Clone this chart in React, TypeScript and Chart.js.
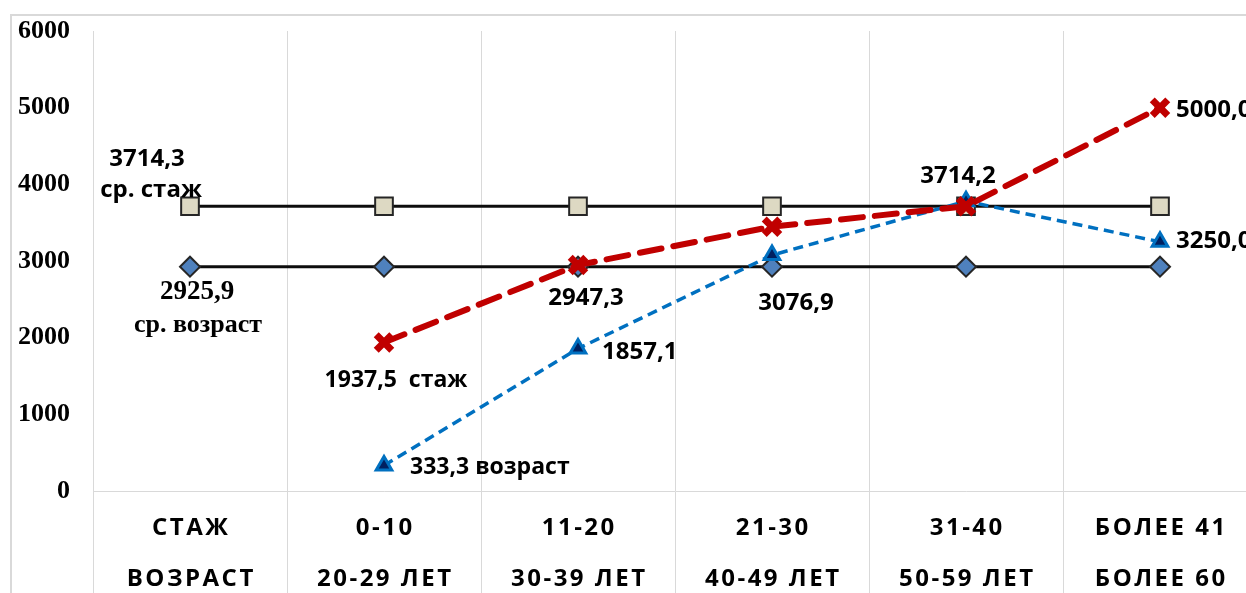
import { useEffect, useRef } from 'react';
import { Chart, registerables } from 'chart.js';

Chart.register(...registerables);

// ---------- data ----------
const categoriesStazh = ['СТАЖ', '0-10', '11-20', '21-30', '31-40', 'БОЛЕЕ 41'];
const categoriesAge = ['ВОЗРАСТ', '20-29 ЛЕТ', '30-39 ЛЕТ', '40-49 ЛЕТ', '50-59 ЛЕТ', 'БОЛЕЕ 60'];
const stazhValues = [null, 1937.5, 2947.3, 3447.0, 3714.2, 5000.0];
const ageValues = [null, 333.3, 1857.1, 3076.9, 3780.0, 3250.0];
const avgStazhValues = [3714.3, 3714.3, 3714.3, 3714.3, 3714.3, 3714.3];
const avgAgeValues = [2925.9, 2925.9, 2925.9, 2925.9, 2925.9, 2925.9];
const yTickValues = [0, 1000, 2000, 3000, 4000, 5000, 6000];

const SANS = '"Open Sans", "Noto Sans", sans-serif';
const SERIF = '"Liberation Serif", "Times New Roman", serif';

const fmt = (v: number) => v.toFixed(1).replace('.', ',');

type Ann = {
  ds: number;
  i: number;
  text: (v: number) => string;
  font: string;
  size: number;
  align: CanvasTextAlign;
  dx: number;
  dy: number;
};

// dataset indices: 0 стаж, 1 возраст, 2 ср. стаж, 3 ср. возраст
const annotations: Ann[] = [
  { ds: 2, i: 0, text: fmt, font: SANS, size: 24, align: 'center', dx: -43, dy: -40 },
  { ds: 2, i: 0, text: () => 'ср. стаж', font: SANS, size: 24, align: 'center', dx: -39, dy: -9 },
  { ds: 3, i: 0, text: fmt, font: SERIF, size: 27, align: 'center', dx: 7, dy: 32 },
  { ds: 3, i: 0, text: () => 'ср. возраст', font: SERIF, size: 26, align: 'center', dx: 8, dy: 65 },
  { ds: 0, i: 1, text: (v) => fmt(v) + '  стаж', font: SANS, size: 23, align: 'center', dx: 12, dy: 45 },
  { ds: 0, i: 2, text: fmt, font: SANS, size: 24, align: 'center', dx: 8, dy: 40 },
  { ds: 1, i: 2, text: fmt, font: SANS, size: 24, align: 'left', dx: 24, dy: 10 },
  { ds: 1, i: 3, text: fmt, font: SANS, size: 24, align: 'center', dx: 24, dy: 55 },
  { ds: 1, i: 1, text: (v) => fmt(v) + ' возраст', font: SANS, size: 23, align: 'left', dx: 26, dy: 9 },
  { ds: 0, i: 4, text: fmt, font: SANS, size: 24, align: 'center', dx: -8, dy: -23 },
  { ds: 0, i: 5, text: fmt, font: SANS, size: 24, align: 'left', dx: 16, dy: 9 },
  { ds: 1, i: 5, text: fmt, font: SANS, size: 24, align: 'left', dx: 16, dy: 6 },
];

const framePlugin = {
  id: 'frame',
  beforeDraw(chart: any) {
    const { ctx, width, height } = chart;
    ctx.save();
    ctx.fillStyle = '#ffffff';
    ctx.fillRect(0, 0, width, height);
    ctx.strokeStyle = '#d9d9d9';
    ctx.lineWidth = 2;
    ctx.beginPath();
    ctx.moveTo(11, height);
    ctx.lineTo(11, 15);
    ctx.lineTo(width, 15);
    ctx.stroke();
    ctx.restore();
  },
};

const xLabelsPlugin = {
  id: 'xLabels',
  afterDraw(chart: any) {
    const { ctx } = chart;
    const xs = chart.scales.x;
    const spacing = 2.5;
    ctx.save();
    ctx.fillStyle = '#000000';
    ctx.font = `bold 24px ${SANS}`;
    ctx.textAlign = 'center';
    ctx.textBaseline = 'alphabetic';
    (ctx as any).letterSpacing = `${spacing}px`;
    categoriesStazh.forEach((lab, i) => {
      const x = xs.getPixelForValue(i) + spacing / 2;
      ctx.fillText(lab, x, xs.top + 44);
      ctx.fillText(categoriesAge[i], x, xs.top + 95);
    });
    ctx.restore();
  },
};

const pointLabelsPlugin = {
  id: 'pointLabels',
  afterDatasetsDraw(chart: any) {
    const { ctx } = chart;
    ctx.save();
    ctx.fillStyle = '#000000';
    ctx.textBaseline = 'alphabetic';
    annotations.forEach((a) => {
      const meta = chart.getDatasetMeta(a.ds);
      const pt = meta.data[a.i];
      const v = chart.data.datasets[a.ds].data[a.i];
      if (!pt || v == null) return;
      ctx.font = `bold ${a.size}px ${a.font}`;
      ctx.textAlign = a.align;
      ctx.fillText(a.text(v), pt.x + a.dx, pt.y + a.dy);
    });
    ctx.restore();
  },
};

export default function App() {
  const ref = useRef<HTMLCanvasElement>(null);

  useEffect(() => {
    if (!ref.current) return;
    const chart = new Chart(ref.current, {
      type: 'line',
      data: {
        labels: categoriesStazh,
        datasets: [
          {
            label: 'стаж',
            data: stazhValues,
            borderColor: '#c00000',
            borderWidth: 6,
            borderDash: [22, 12],
            borderCapStyle: 'round',
            pointStyle: 'crossRot',
            pointRadius: 11,
            pointBorderWidth: 7,
            pointBorderColor: '#c00000',
            pointBackgroundColor: '#c00000',
            tension: 0,
          },
          {
            label: 'возраст',
            data: ageValues,
            borderColor: '#0070c0',
            borderWidth: 3.5,
            borderDash: [10, 6],
            pointStyle: 'triangle',
            pointRadius: 9,
            pointBorderWidth: 3,
            pointBorderColor: '#0070c0',
            pointBackgroundColor: '#002060',
            tension: 0,
          },
          {
            label: 'ср. стаж',
            data: avgStazhValues,
            borderColor: '#0d0d0d',
            borderWidth: 3,
            pointStyle: 'rect',
            pointRadius: 12.5,
            pointBorderWidth: 2,
            pointBorderColor: '#262626',
            pointBackgroundColor: '#ddd9c3',
            tension: 0,
          },
          {
            label: 'ср. возраст',
            data: avgAgeValues,
            borderColor: '#0d0d0d',
            borderWidth: 3,
            pointStyle: 'rectRot',
            pointRadius: 10,
            pointBorderWidth: 2,
            pointBorderColor: '#262626',
            pointBackgroundColor: '#4f81bd',
            tension: 0,
          },
        ],
      },
      options: {
        animation: false,
        responsive: false,
        devicePixelRatio: 1,
        layout: { autoPadding: false, padding: { top: 31, right: 5, left: 0, bottom: 0 } },
        plugins: { legend: { display: false }, tooltip: { enabled: false } },
        scales: {
          x: {
            type: 'category',
            offset: true,
            grid: {
              display: true,
              offset: true,
              color: '#d9d9d9',
              lineWidth: 1,
              drawTicks: true,
              tickLength: 102,
            },
            border: { display: true, color: '#d9d9d9', width: 1 },
            ticks: { display: false },
            afterFit: (s: any) => {
              s.height = 102;
            },
          },
          y: {
            min: 0,
            max: 6000,
            afterBuildTicks: (s: any) => {
              s.ticks = yTickValues.map((v) => ({ value: v }));
            },
            grid: { display: false, drawTicks: false },
            border: { display: false },
            ticks: {
              color: '#000000',
              padding: 23,
              font: { family: SERIF, size: 26, weight: 'bold' },
              callback: (v: any) => String(v),
            },
            afterFit: (s: any) => {
              s.width = 93;
              s.paddingTop = 0;
              s.paddingBottom = 0;
            },
          },
        },
      },
      plugins: [framePlugin, pointLabelsPlugin, xLabelsPlugin],
    } as any);
    return () => chart.destroy();
  }, []);

  return (
    <div
      style={{
        position: 'fixed',
        left: 0,
        top: 0,
        width: 1246,
        height: 593,
        overflow: 'hidden',
        background: '#ffffff',
      }}
    >
      <canvas ref={ref} width={1262} height={593} style={{ width: 1262, height: 593, display: 'block' }} />
    </div>
  );
}
